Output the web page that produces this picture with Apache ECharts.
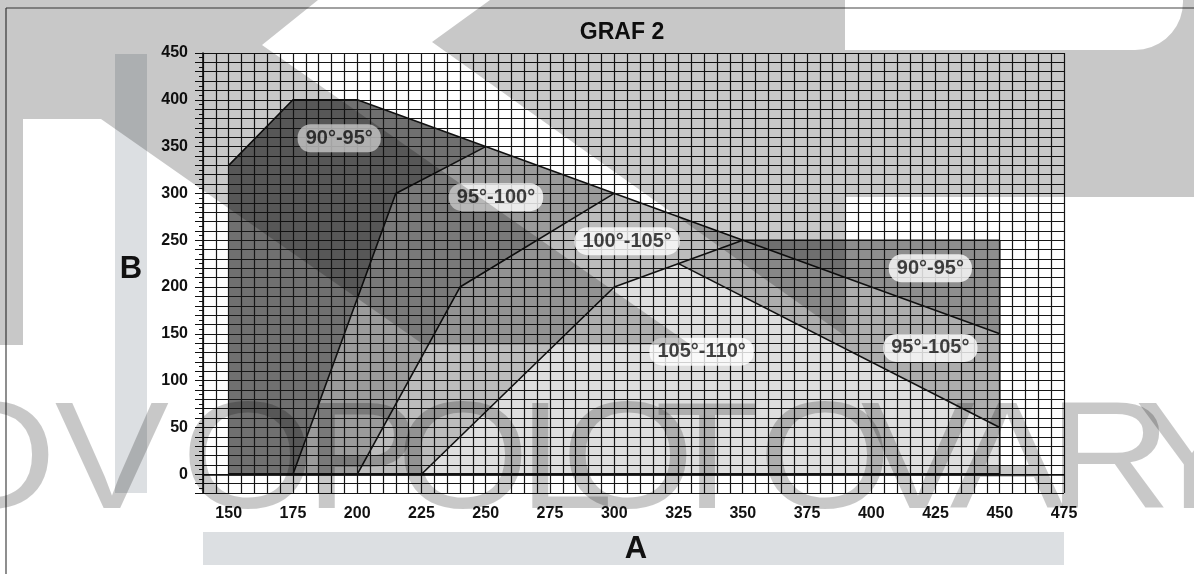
<!DOCTYPE html>
<html>
<head>
<meta charset="utf-8">
<title>GRAF 2</title>
<script src="https://cdn.jsdelivr.net/npm/echarts@6/dist/echarts.min.js"></script>
<style>
  html, body { margin: 0; padding: 0; background: #fff; }
  #chart { width: 1194px; height: 574px; }
</style>
</head>
<body>
<div id="chart"></div>
<script>
// popisky os
const xTicks = [150, 175, 200, 225, 250, 275, 300, 325, 350, 375, 400, 425, 450, 475]
const yTicks = [0, 50, 100, 150, 200, 250, 300, 350, 400, 450]

// oblasti grafu [A, B]
const zone9095L = [[150, 0], [150, 330], [175, 400], [200, 400], [250, 350], [215, 300], [175, 0]]
const zone95100 = [[175, 0], [215, 300], [250, 350], [300, 300], [240, 200], [200, 0]]
const zone100105 = [[200, 0], [240, 200], [300, 300], [350, 250], [300, 200], [225, 0]]
const zone105110 = [[225, 0], [300, 200], [325, 225], [450, 50], [450, 0]]
const zone95105 = [[325, 225], [350, 250], [450, 150], [450, 50]]
const zone9095R = [[350, 250], [450, 250], [450, 150]]

// hranice oblastí
const lineTop = [[150, 330], [175, 400], [200, 400], [450, 150]]
const line1 = [[175, 0], [215, 300], [250, 350]]
const line2 = [[200, 0], [240, 200], [300, 300]]
const line3 = [[225, 0], [300, 200], [350, 250]]
const line4 = [[325, 225], [450, 50]]
const lineBox = [[350, 250], [450, 250], [450, 0]]
const lineBase = [[150, 0], [450, 0]]

// štítky oblastí
const zoneNames = ['90°-95°', '95°-100°', '100°-105°', '90°-95°', '105°-110°', '95°-105°']
const zoneSpots = [[193, 359], [254, 296], [305, 249], [423, 220], [334, 131], [423, 135]]

const zones = [
	{ pts: zone9095L, color: '#707070' },
	{ pts: zone95100, color: '#9b9b9b' },
	{ pts: zone100105, color: '#bcbcbc' },
	{ pts: zone105110, color: '#dedede' },
	{ pts: zone95105, color: '#adadad' },
	{ pts: zone9095R, color: '#8e8e8e' }
]

const font = '"Liberation Sans", Arial, sans-serif'
const shade = 'rgba(0,0,0,0.215)'

// vodoznak (pozadí obrázku)
const arc = []
for (let a = 90; a >= 0; a -= 10) {
	const r = a * Math.PI / 180
	arc.push([1135 + 48 * Math.cos(r), 2 + 48 * Math.sin(r)])
}
const shapeA = [[0, 0], [318, 0], [262, 45], [691, 345], [424, 345], [101, 119], [23, 119], [23, 345], [0, 345]]
const shapeB = [[490, 0], [845, 0], [845, 50]].concat(arc, [[1183, 0], [1194, 0], [1194, 197], [845, 197], [845, 336], [432, 42]])
const markLetters = [['O', -10], ['V', 112], ['O', 248], ['P', 362], ['O', 463], ['L', 566], ['O', 628], ['T', 707], ['O', 825], ['V', 918], ['A', 1007], ['R', 1110], ['Y', 1192]]

const lineSeries = (data, width) => ({
	type: 'line',
	data: data,
	symbol: 'none',
	z: 4,
	silent: true,
	lineStyle: { color: '#111', width: width || 1.6 }
})

const chart = echarts.init(document.getElementById('chart'))

const graphic = [
	// šedé pruhy pod popisky os
	{ type: 'rect', z: 0, shape: { x: 115, y: 54, width: 32, height: 439 }, style: { fill: '#dcdfe2' } },
	{ type: 'rect', z: 0, shape: { x: 203, y: 532, width: 861, height: 33 }, style: { fill: '#dcdfe2' } },
	{ type: 'text', z: 10, x: 131, y: 269, style: { text: 'B', font: 'bold 31px ' + font, fill: '#111', align: 'center', verticalAlign: 'middle' } },
	{ type: 'text', z: 10, x: 636, y: 549, style: { text: 'A', font: 'bold 31px ' + font, fill: '#111', align: 'center', verticalAlign: 'middle' } },
	{ type: 'text', z: 10, x: 622, y: 33, style: { text: 'GRAF 2', font: 'bold 23px ' + font, fill: '#111', align: 'center', verticalAlign: 'middle' } },
	// rámeček
	{ type: 'line', z: 10, shape: { x1: 6, y1: 8, x2: 1194, y2: 8 }, style: { stroke: '#444', lineWidth: 1.2 } },
	{ type: 'line', z: 10, shape: { x1: 6, y1: 8, x2: 6, y2: 574 }, style: { stroke: '#444', lineWidth: 1.2 } },
	// vodoznak
	{ type: 'polygon', z: 100, silent: true, shape: { points: shapeA }, style: { fill: shade } },
	{ type: 'polygon', z: 100, silent: true, shape: { points: shapeB }, style: { fill: shade } }
].concat(markLetters.map(([ch, cx]) => ({
	type: 'text',
	z: 100,
	silent: true,
	x: cx,
	y: 466,
	scaleX: 1.12,
	style: { text: ch, font: '153px ' + font, fill: shade, align: 'center', verticalAlign: 'middle' }
})))

const options = {
	animation: false,
	backgroundColor: '#fff',
	grid: { left: 203, top: 53, width: 861, height: 440 },
	xAxis: {
		type: 'value',
		min: 140,
		max: 475,
		interval: 5,
		z: 3,
		axisLine: { lineStyle: { color: '#111', width: 1.6 } },
		axisTick: { length: 6, lineStyle: { color: '#111' } },
		axisLabel: {
			customValues: xTicks,
			margin: 13,
			color: '#111',
			fontFamily: font,
			fontWeight: 'bold',
			fontSize: 16
		},
		splitLine: { show: true, lineStyle: { color: '#161616', width: 1.2 } }
	},
	yAxis: {
		type: 'value',
		min: -20,
		max: 450,
		interval: 10,
		z: 3,
		axisLine: { show: true, lineStyle: { color: '#111', width: 1.6 } },
		axisTick: { show: true, length: 8, lineStyle: { color: '#111' } },
		minorTick: { show: true, splitNumber: 2, length: 4, lineStyle: { color: '#111' } },
		axisLabel: {
			customValues: yTicks,
			margin: 15,
			color: '#111',
			fontFamily: font,
			fontWeight: 'bold',
			fontSize: 16
		},
		splitLine: { show: true, lineStyle: { color: '#161616', width: 1.2 } }
	},
	series: [
		{
			type: 'custom',
			z: 2,
			silent: true,
			data: zones.map((z) => z.pts[0]),
			renderItem: (params, api) => {
				const zone = zones[params.dataIndex]
				return {
					type: 'polygon',
					shape: { points: zone.pts.map((p) => api.coord(p)) },
					style: { fill: zone.color }
				}
			}
		},
		lineSeries(lineTop),
		lineSeries(line1),
		lineSeries(line2),
		lineSeries(line3),
		lineSeries(line4),
		lineSeries(lineBox),
		lineSeries(lineBase, 2.4),
		{
			type: 'scatter',
			z: 5,
			silent: true,
			symbolSize: 1,
			itemStyle: { color: 'rgba(0,0,0,0)' },
			data: zoneNames.map((n, i) => ({ name: n, value: zoneSpots[i] })),
			label: {
				show: true,
				position: 'inside',
				formatter: '{b}',
				color: '#111',
				fontFamily: font,
				fontWeight: 'bold',
				fontSize: 20,
				backgroundColor: '#fff',
				borderRadius: 13,
				padding: [4, 8]
			}
		}
	],
	graphic: graphic
}

chart.setOption(options)
</script>
</body>
</html>
